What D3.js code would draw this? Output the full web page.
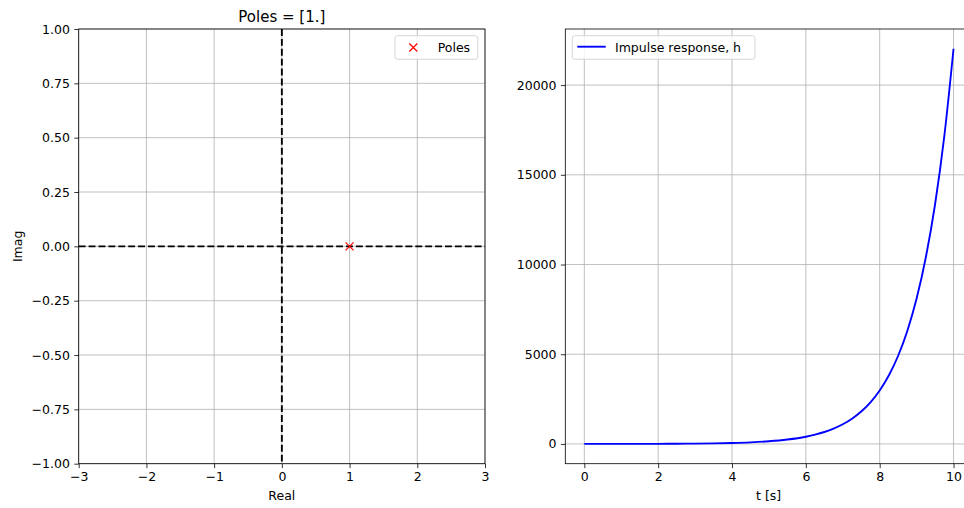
<!DOCTYPE html>
<html><head><meta charset="utf-8">
<script src="https://cdn.jsdelivr.net/npm/d3@7"></script>
<style>
body{margin:0;background:#fff;}
svg{display:block;font-family:"DejaVu Sans",sans-serif;}
</style></head>
<body><svg id="c" width="964" height="508"></svg>
<script>
// ---- data ----
const poleReal = [1];
const poleImag = [0];
const leftXTicks = [-3, -2, -1, 0, 1, 2, 3];
const leftYTicks = [-1, -0.75, -0.5, -0.25, 0, 0.25, 0.5, 0.75, 1];
const timeS = [0,0.5,1,1.5,2,2.5,3,3.5,4,4.5,5,5.5,6,6.25,6.5,6.75,7,7.25,7.5,7.75,8,8.25,8.5,8.75,9,9.25,9.5,9.75,10];
const impulseH = [1,1.65,2.72,4.48,7.39,12.2,20.1,33.1,54.6,90.0,148,245,403,518,665,854,1097,1408,1808,2322,2981,3827,4915,6311,8103,10405,13360,17154,22026];
const rightXTicks = [0, 2, 4, 6, 8, 10];
const rightYTicks = [0, 5000, 10000, 15000, 20000];
const titleLeft = "Poles = [1.]";

const svg = d3.select("#c");
const fs = 12.5;
const minus = s => s.replace(/-/g, "\u2212");

// ---- left panel ----
const L = {x0: 78.7, x1: 485, y0: 29, y1: 463.7};
const xL = d3.scaleLinear().domain([-3, 3]).range([L.x0, L.x1]);
const yL = d3.scaleLinear().domain([-1, 1]).range([L.y1, L.y0]);
const gL = svg.append("g");

gL.selectAll("line.gx").data(leftXTicks).enter().append("line")
  .attr("x1", d => xL(d)).attr("x2", d => xL(d)).attr("y1", L.y0).attr("y2", L.y1)
  .attr("stroke", "#b0b0b0").attr("stroke-width", 0.8);
gL.selectAll("line.gy").data(leftYTicks).enter().append("line")
  .attr("y1", d => yL(d)).attr("y2", d => yL(d)).attr("x1", L.x0).attr("x2", L.x1)
  .attr("stroke", "#b0b0b0").attr("stroke-width", 0.8);

// dashed axes lines
gL.append("line").attr("x1", L.x0).attr("x2", L.x1).attr("y1", yL(0)).attr("y2", yL(0))
  .attr("stroke", "#000").attr("stroke-width", 1.875).attr("stroke-dasharray", "6.9,3");
gL.append("line").attr("x1", xL(0)).attr("x2", xL(0)).attr("y1", L.y0).attr("y2", L.y1)
  .attr("stroke", "#000").attr("stroke-width", 1.875).attr("stroke-dasharray", "6.9,3");

// pole markers
const mk = 4;
poleReal.forEach((r, i) => {
  const cx = xL(r), cy = yL(poleImag[i]);
  gL.append("path").attr("d", `M${cx-mk},${cy-mk}L${cx+mk},${cy+mk}M${cx-mk},${cy+mk}L${cx+mk},${cy-mk}`)
    .attr("stroke", "red").attr("stroke-width", 1.2).attr("fill", "none");
});

// axes
const axXL = gL.append("g").attr("transform", `translate(0,${L.y1})`)
  .call(d3.axisBottom(xL).tickValues(leftXTicks).tickSize(4.4).tickPadding(4.4).tickFormat(d => minus(String(d))));
const axYL = gL.append("g").attr("transform", `translate(${L.x0},0)`)
  .call(d3.axisLeft(yL).tickValues(leftYTicks).tickSize(4.4).tickPadding(4.4).tickFormat(d => minus(d.toFixed(2))));
[axXL, axYL].forEach(a => {
  a.select(".domain").remove();
  a.selectAll("text").attr("font-size", fs).attr("fill", "#000").attr("font-family", "DejaVu Sans");
  a.selectAll("line").attr("stroke", "#000").attr("stroke-width", 0.8);
});
gL.append("rect").attr("x", L.x0).attr("y", L.y0).attr("width", L.x1 - L.x0).attr("height", L.y1 - L.y0)
  .attr("fill", "none").attr("stroke", "#000").attr("stroke-width", 0.8);

gL.append("text").attr("x", (L.x0 + L.x1) / 2).attr("y", 21.5).attr("text-anchor", "middle")
  .attr("font-size", 15).text(titleLeft);
gL.append("text").attr("x", (L.x0 + L.x1) / 2).attr("y", 499.5).attr("text-anchor", "middle")
  .attr("font-size", fs).text("Real");
gL.append("text").attr("transform", `translate(22,${(L.y0 + L.y1) / 2}) rotate(-90)`).attr("text-anchor", "middle")
  .attr("font-size", fs).text("Imag");

// legend left
const lg = gL.append("g");
lg.append("rect").attr("x", 395).attr("y", 35.7).attr("width", 82.7).attr("height", 23.6).attr("rx", 2.5)
  .attr("fill", "#fff").attr("fill-opacity", 0.8).attr("stroke", "#cccccc").attr("stroke-width", 0.8);
lg.append("path").attr("d", `M${413.3-mk},${47.5-mk}L${413.3+mk},${47.5+mk}M${413.3-mk},${47.5+mk}L${413.3+mk},${47.5-mk}`)
  .attr("stroke", "red").attr("stroke-width", 1.2);
lg.append("text").attr("x", 437.7).attr("y", 52).attr("font-size", fs).text("Poles");

// ---- right panel ----
const R = {x0: 565.3, x1: 972, y0: 29, y1: 463.7};
const xR = d3.scaleLinear().domain([-0.515, 10.5]).range([R.x0, R.x1]);
const yR = d3.scaleLinear().domain([-1101, 23127]).range([R.y1, R.y0]);
const gR = svg.append("g");

gR.selectAll("line.gx").data(rightXTicks).enter().append("line")
  .attr("x1", d => xR(d)).attr("x2", d => xR(d)).attr("y1", R.y0).attr("y2", R.y1)
  .attr("stroke", "#b0b0b0").attr("stroke-width", 0.8);
gR.selectAll("line.gy").data(rightYTicks).enter().append("line")
  .attr("y1", d => yR(d)).attr("y2", d => yR(d)).attr("x1", R.x0).attr("x2", R.x1)
  .attr("stroke", "#b0b0b0").attr("stroke-width", 0.8);

const pts = timeS.map((t, i) => [t, impulseH[i]]);
gR.append("path").datum(pts)
  .attr("d", d3.line().x(d => xR(d[0])).y(d => yR(d[1])).curve(d3.curveMonotoneX))
  .attr("fill", "none").attr("stroke", "blue").attr("stroke-width", 1.875);

const axXR = gR.append("g").attr("transform", `translate(0,${R.y1})`)
  .call(d3.axisBottom(xR).tickValues(rightXTicks).tickSize(4.4).tickPadding(4.4).tickFormat(d => String(d)));
const axYR = gR.append("g").attr("transform", `translate(${R.x0},0)`)
  .call(d3.axisLeft(yR).tickValues(rightYTicks).tickSize(4.4).tickPadding(4.4).tickFormat(d => String(d)));
[axXR, axYR].forEach(a => {
  a.select(".domain").remove();
  a.selectAll("text").attr("font-size", fs).attr("fill", "#000").attr("font-family", "DejaVu Sans");
  a.selectAll("line").attr("stroke", "#000").attr("stroke-width", 0.8);
});
gR.append("rect").attr("x", R.x0).attr("y", R.y0).attr("width", R.x1 - R.x0).attr("height", R.y1 - R.y0)
  .attr("fill", "none").attr("stroke", "#000").attr("stroke-width", 0.8);

gR.append("text").attr("x", (R.x0 + R.x1) / 2).attr("y", 499.5).attr("text-anchor", "middle")
  .attr("font-size", fs).text("t [s]");

const lr = gR.append("g");
lr.append("rect").attr("x", 572.3).attr("y", 35.7).attr("width", 182.7).attr("height", 23.6).attr("rx", 2.5)
  .attr("fill", "#fff").attr("fill-opacity", 0.8).attr("stroke", "#cccccc").attr("stroke-width", 0.8);
lr.append("line").attr("x1", 577.3).attr("x2", 605.7).attr("y1", 46.7).attr("y2", 46.7)
  .attr("stroke", "blue").attr("stroke-width", 1.875);
lr.append("text").attr("x", 615).attr("y", 52).attr("font-size", fs).text("Impulse response, h");
</script></body></html>
